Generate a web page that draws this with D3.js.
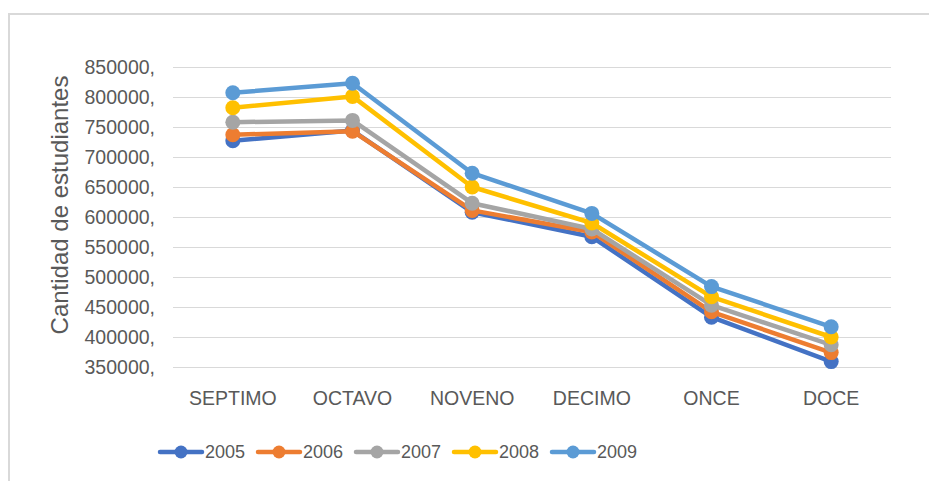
<!DOCTYPE html>
<html>
<head>
<meta charset="utf-8">
<script src="https://cdn.jsdelivr.net/npm/d3@7"></script>
<style>
  body { margin: 0; background: #fff; }
  svg { display: block; font-family: 'Liberation Sans', Arial, sans-serif; }
</style>
</head>
<body>
<script>
// Chart data
var grados = ['SEPTIMO', 'OCTAVO', 'NOVENO', 'DECIMO', 'ONCE', 'DOCE'];
var anios = ['2005', '2006', '2007', '2008', '2009'];
var y2005 = [727000, 744000, 608000, 567000, 433000, 359000];
var y2006 = [737000, 743000, 611000, 575000, 442000, 374000];
var y2007 = [758000, 761000, 623000, 580000, 453000, 387000];
var y2008 = [782000, 801000, 650000, 590000, 467000, 400000];
var y2009 = [807000, 823000, 673000, 606000, 484000, 417000];
var yTicks = [350000, 400000, 450000, 500000, 550000, 600000, 650000, 700000, 750000, 800000, 850000];
var colores = ['#4472C4', '#ED7D31', '#A5A5A5', '#FFC000', '#5B9BD5'];

var series = [y2005, y2006, y2007, y2008, y2009].map(function(v, i) {
  return { name: anios[i], values: v, color: colores[i] };
});

var width = 929, height = 481;
var svg = d3.select('body').append('svg')
  .attr('width', width)
  .attr('height', height);

// chart frame (runs off the right and bottom edges)
svg.append('rect')
  .attr('x', 9).attr('y', 14)
  .attr('width', 940).attr('height', 500)
  .attr('fill', 'none')
  .attr('stroke', '#d9d9d9')
  .attr('stroke-width', 2);

var x = d3.scaleBand().domain(grados).range([173, 891]);
var y = d3.scaleLinear().domain([350000, 850000]).range([367, 67]);

// gridlines + y labels
var yAxis = svg.append('g')
  .attr('transform', 'translate(173,0)')
  .call(d3.axisLeft(y).tickValues(yTicks).tickSize(-718).tickPadding(18)
    .tickFormat(function(d) { return d + ','; }));
yAxis.select('.domain').remove();
yAxis.selectAll('line').attr('stroke', '#d9d9d9').attr('stroke-width', 1);
yAxis.selectAll('text')
  .attr('fill', '#595959')
  .style('font-size', '19.5px');

// x labels
var xAxis = svg.append('g')
  .attr('transform', 'translate(0,367)')
  .call(d3.axisBottom(x).tickSize(0).tickPadding(24));
xAxis.select('.domain').remove();
xAxis.selectAll('text')
  .attr('fill', '#595959')
  .style('font-size', '19.5px');

// y title
svg.append('text')
  .attr('transform', 'translate(68,205) rotate(-90)')
  .attr('text-anchor', 'middle')
  .attr('fill', '#595959')
  .style('font-size', '24px')
  .text('Cantidad de estudiantes');

var line = d3.line()
  .x(function(d, i) { return x(grados[i]) + x.bandwidth() / 2; })
  .y(function(d) { return y(d); });

var lines = svg.append('g').selectAll('g')
  .data(series)
  .join('g');

lines.append('path')
  .attr('d', function(d) { return line(d.values); })
  .attr('fill', 'none')
  .attr('stroke', function(d) { return d.color; })
  .attr('stroke-width', 4.5)
  .attr('stroke-linejoin', 'round');

lines.selectAll('circle')
  .data(function(d) { return d.values.map(function(v) { return { v: v, color: d.color }; }); })
  .join('circle')
  .attr('cx', function(d, i) { return x(grados[i]) + x.bandwidth() / 2; })
  .attr('cy', function(d) { return y(d.v); })
  .attr('r', 7.5)
  .attr('fill', function(d) { return d.color; });

// legend
var legend = svg.append('g').selectAll('g')
  .data(series)
  .join('g')
  .attr('transform', function(d, i) { return 'translate(' + (160 + i * 98) + ',452)'; });

legend.append('line')
  .attr('x1', 0).attr('x2', 42)
  .attr('stroke', function(d) { return d.color; })
  .attr('stroke-width', 4.5)
  .attr('stroke-linecap', 'round');
legend.append('circle')
  .attr('cx', 21).attr('r', 6.5)
  .attr('fill', function(d) { return d.color; });
legend.append('text')
  .attr('x', 45).attr('dy', '0.35em')
  .attr('fill', '#595959')
  .style('font-size', '18px')
  .text(function(d) { return d.name; });
</script>
</body>
</html>
